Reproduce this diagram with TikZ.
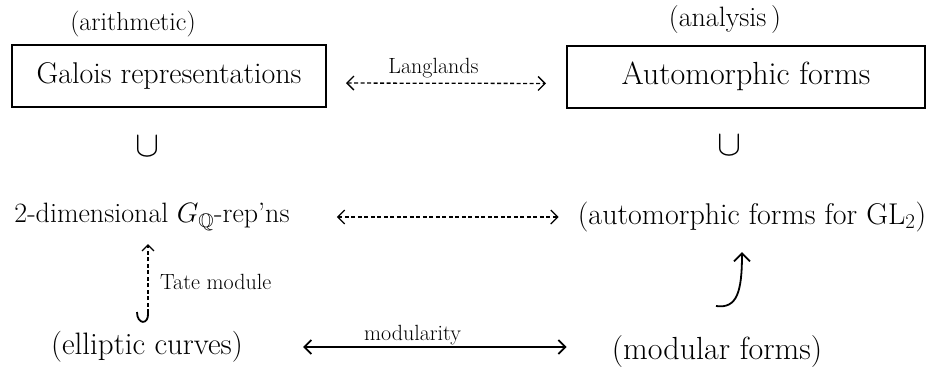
\documentclass[tikz,border=0pt]{standalone}
\usepackage{fix-cm}
\usepackage{amssymb}
\usetikzlibrary{arrows.meta}
\newcommand{\fsz}[1]{\fontsize{#1}{#1}\selectfont}
\begin{document}
\begin{tikzpicture}[x=1pt,y=-1pt,
  big/.style={font=\fsz{30}, inner sep=0pt},
  small/.style={font=\fsz{22}, inner sep=0pt},
  frame/.style={draw, line width=2pt, minimum height=62pt},
  twoway/.style={line width=1.8pt, {Straight Barb[length=7pt,width=14pt]}-{Straight Barb[length=7pt,width=14pt]}},
  dashlink/.style={twoway, line width=1.3pt, dash pattern=on 4pt off 2.5pt},
  upward/.style={line width=1.8pt, -{Straight Barb[length=8pt,width=16pt]}}
]
\useasboundingbox (0,0) rectangle (946,376);

% top row: framed notions
\node[frame, big, font=\fsz{30}, minimum width=314pt] (galois) at (169,76) {Galois representations};
\node[frame, big, font=\fsz{32}, minimum width=358pt] (autom)  at (746,76.5) {Automorphic forms};
\node[small, font=\fsz{26}] (arith)    at (133,24) {(arithmetic)};
\node[small, font=\fsz{28}] (analysis) at (725,20) {(analysis\,)};

% correspondence between the two boxes
\draw[dashlink, shorten <=19pt, shorten >=20pt] ([yshift=-7pt]galois.east) -- ([yshift=-7pt]autom.west)
  node[small, midway, above=5pt, xshift=-13pt] (langl) {Langlands};

% inclusion signs
\node[big, font=\fsz{36}] (subL) at (147,146) {$\cup$};
\node[big, font=\fsz{36}] (subR) at (729,145) {$\cup$};

% middle row
\node[big, font=\fsz{28}] (twodim) at (152,217) {2-dimensional $G_{\mathbb{Q}}$-rep'ns};
\node[big] (autgl)  at (752,217) {(automorphic forms for $\mathrm{GL}_2$)};
\draw[dashlink, shorten <=47pt, shorten >=19pt] (twodim.east) -- (autgl.west);

% bottom row
\node[big, font=\fsz{31}] (elliptic) at (147,347) {(elliptic curves)};
\node[big, font=\fsz{32}] (modular)  at (717,352) {(modular forms)};
\draw[twoway, shorten <=60pt, shorten >=45pt] (elliptic.east) -- (elliptic.east -| modular.west)
  node[small, pos=0.46, above=1pt] (modlab) {modularity};

% Tate module: dashed arrow up with a hooked tail
\coordinate (tateBot) at (148,313);
\coordinate (tateTop) at (148,244);
\draw[line width=1.3pt, dash pattern=on 4pt off 2.5pt, -{Straight Barb[length=6pt,width=12pt]}]
  (tateBot) -- (tateTop);
\draw[line width=1.8pt] (tateBot) .. controls (149,325) and (137,325) .. (137,312);
\node[small, anchor=west] (tate) at (160,282) {Tate module};

% modular forms give automorphic forms for GL_2
\coordinate (jTail) at (716,306);
\coordinate (jTip)  at (742,252);
\draw[upward] (jTail) .. controls (737,309) and (742,292) .. (jTip);
\end{tikzpicture}
\end{document}
